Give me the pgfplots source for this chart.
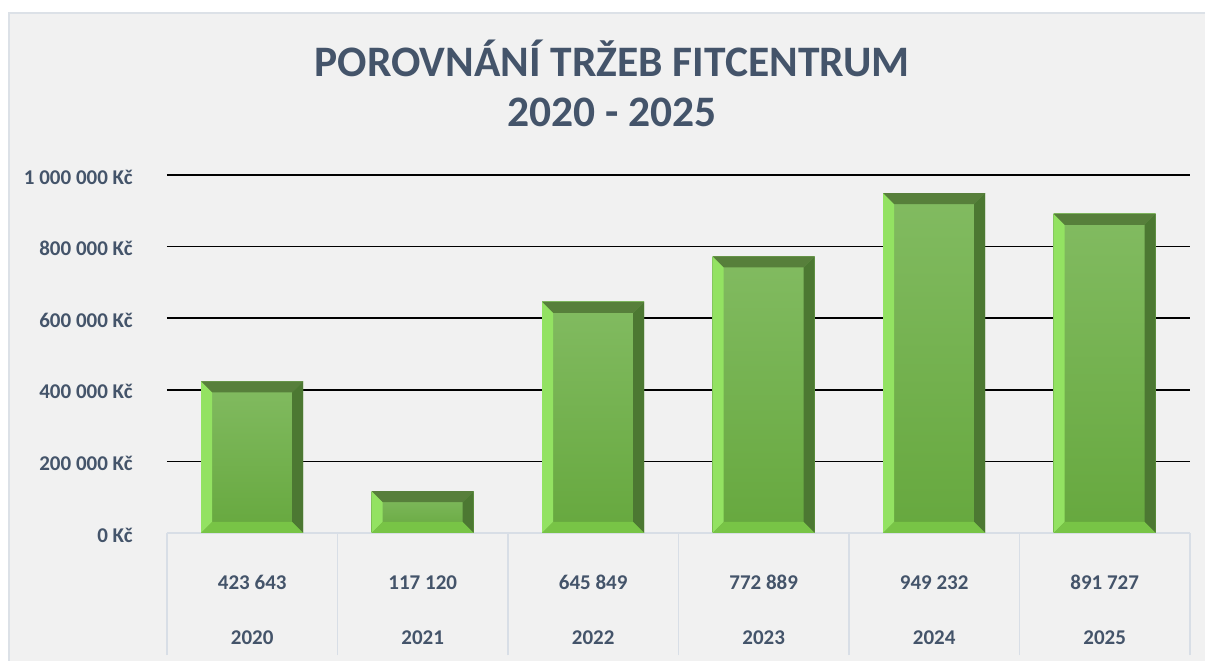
\documentclass[border=0pt]{standalone}
\usepackage{pgfplots}
\pgfplotsset{compat=1.18}
\usepackage{fontspec}
\setmainfont{Carlito}

\definecolor{txt}{HTML}{44546A}
\definecolor{chartbg}{HTML}{F1F1F1}
\definecolor{chartborder}{HTML}{DCE1E7}
\definecolor{tablegray}{HTML}{D8DEE6}
\definecolor{facetop}{HTML}{82BB61}
\definecolor{facebot}{HTML}{66A83E}
\definecolor{bevL}{HTML}{93E262}
\definecolor{bevT}{HTML}{577F3B}
\definecolor{bevR}{HTML}{4C7832}
\definecolor{bevB}{HTML}{78C446}

\makeatletter
\tikzset{noshade/.code={\tikz@addmode{\tikz@mode@shadefalse}}}
\makeatother

% bevel drawn inside each bar (guard stops the picture being nested)
\newif\ifinbevel
\newcommand\bevel{%
  \ifinbevel\else\inbeveltrue
  \path (path picture bounding box.south west) coordinate (bsw)
        (path picture bounding box.north east) coordinate (bne)
        (path picture bounding box.north west) coordinate (bnw)
        (path picture bounding box.south east) coordinate (bse);
  \fill[noshade, bevL] (bsw) -- (bnw) -- ([shift={(11pt,-11pt)}]bnw) -- ([shift={(11pt,11pt)}]bsw) -- cycle;
  \fill[noshade, bevT] (bnw) -- (bne) -- ([shift={(-11pt,-11pt)}]bne) -- ([shift={(11pt,-11pt)}]bnw) -- cycle;
  \fill[noshade, bevR] (bne) -- (bse) -- ([shift={(-11pt,11pt)}]bse) -- ([shift={(-11pt,-11pt)}]bne) -- cycle;
  \fill[noshade, bevB] (bse) -- (bsw) -- ([shift={(11pt,11pt)}]bsw) -- ([shift={(-11pt,11pt)}]bse) -- cycle;
  \fi
}

\begin{document}
\begin{tikzpicture}
% page and chart area
\fill[white] (-167pt,-128pt) rectangle (1038pt,533pt);
\fill[chartbg] (-158pt,-128pt) rectangle (1038pt,520pt);
\draw[chartborder, line width=1.5pt] (-158pt,-128pt) -- (-158pt,520pt) -- (1038pt,520pt);

\begin{axis}[
  scale only axis,
  width=1023pt, height=358pt,
  xmin=-0.5, xmax=5.5,
  ymin=0, ymax=1000000,
  axis x line*=bottom, axis y line*=left,
  x axis line style={draw=tablegray, line width=1.5pt},
  y axis line style={draw=none},
  scaled y ticks=false,
  ytick={200000,400000,600000,800000,1000000},
  yticklabels={200 000 Kč,400 000 Kč,600 000 Kč,800 000 Kč,1 000 000 Kč},
  extra y ticks={0},
  extra y tick labels={0 Kč},
  extra y tick style={grid=none},
  ymajorgrids,
  major grid style={draw=black, line width=1.6pt},
  ytick style={draw=none},
  yticklabel style={inner sep=0pt, xshift=-30pt, yshift=-2pt},
  % data table below the bars: values row, years row, cell borders
  xtick={0,1,2,3,4,5},
  xticklabels={423 643,117 120,645 849,772 889,949 232,891 727},
  minor xtick={-0.5,0.5,1.5,2.5,3.5,4.5,5.5},
  tick align=outside,
  minor tick length=122pt,
  major x tick style={draw=none},
  minor x tick style={draw=tablegray, line width=1.5pt},
  xticklabel style={anchor=center, yshift=-45pt},
  extra x ticks={0,1,2,3,4,5},
  extra x tick labels={2020,2021,2022,2023,2024,2025},
  extra x tick style={major x tick style={draw=none}, xticklabel style={yshift=-55pt}},
  tick label style={font=\bfseries\fontsize{21}{25}\selectfont, text=txt},
  bev/.style={ybar, bar width=102pt, bar shift=0pt, draw=none,
              top color=facetop, bottom color=facebot, path picture={\bevel}},
]
% one plot per bar, so that each bar gets its own bevel
\addplot[bev] coordinates {(0,423643)};
\addplot[bev] coordinates {(1,117120)};
\addplot[bev] coordinates {(2,645849)};
\addplot[bev] coordinates {(3,772889)};
\addplot[bev] coordinates {(4,949232)};
\addplot[bev] coordinates {(5,891727)};
\end{axis}

\node[align=center, text=txt, font=\bfseries\fontsize{43.5}{50}\selectfont]
  at (445pt,450pt) {POROVNÁNÍ TRŽEB FITCENTRUM\\2020 - 2025};

\pgfresetboundingbox
\path[use as bounding box] (-167pt,-128pt) rectangle (1038pt,533pt);
\end{tikzpicture}
\end{document}
